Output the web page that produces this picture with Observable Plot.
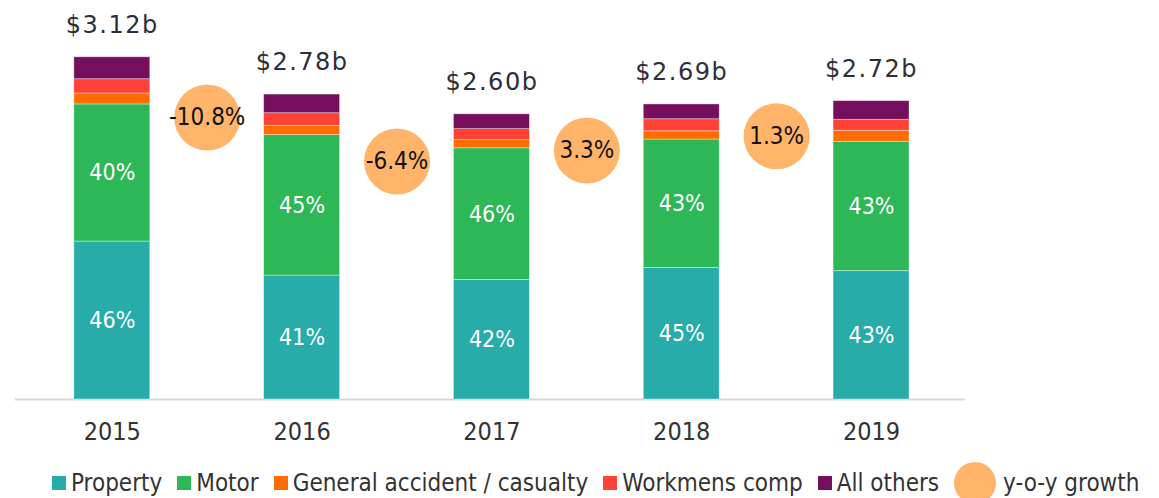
<!DOCTYPE html>
<html>
<head>
<meta charset="utf-8">
<script src="https://cdn.jsdelivr.net/npm/d3@7"></script>
<script src="https://cdn.jsdelivr.net/npm/@observablehq/plot@0.6"></script>
<style>
  html, body { margin: 0; padding: 0; background: #fff; overflow: hidden; }
  #chart { width: 1159px; }
  .legend { display: flex; align-items: center; height: 46px; padding-left: 52px;
    font-family: "DejaVu Sans Condensed", "DejaVu Sans", sans-serif; font-size: 24px; color: #333; white-space: nowrap; }
  .legend .item { display: flex; align-items: center; margin-right: 15px; }
  .legend .sw { width: 14px; height: 14px; margin-right: 5px; display: inline-block; }
  .legend .circ { width: 42px; height: 42px; border-radius: 50%; margin-right: 7px; display: inline-block; }
</style>
</head>
<body>
<div id="chart"></div>
<script>
const years = [2015, 2016, 2017, 2018, 2019];
const categories = ["Property", "Motor", "General accident / casualty", "Workmens comp", "All others"];
const colors = ["#27ACAA", "#2DB757", "#FF6D00", "#FF4136", "#750E5C"];
// premium by line, $ billions
const property = [1.44, 1.13, 1.09, 1.20, 1.17];
const motor = [1.25, 1.28, 1.20, 1.17, 1.18];
const generalAccident = [0.10, 0.085, 0.075, 0.075, 0.10];
const workmensComp = [0.13, 0.115, 0.10, 0.11, 0.10];
const allOthers = [0.20, 0.17, 0.135, 0.135, 0.17];
const totals = [3.12, 2.78, 2.60, 2.69, 2.72];
const propertyShare = [46, 41, 42, 45, 43];
const motorShare = [40, 45, 46, 43, 43];
const growth = [-10.8, -6.4, 3.3, 1.3];
const growthLevel = [2.57, 2.17, 2.27, 2.40]; // $b level at which each bubble sits
const growthColor = "#FFB46A";

const series = [property, motor, generalAccident, workmensComp, allOthers];
const rows = [];
years.forEach((year, i) => {
  let acc = 0;
  series.forEach((s, k) => {
    rows.push({year, cat: categories[k], y1: acc, y2: acc + s[i], k});
    acc += s[i];
  });
});
const shareRows = [];
years.forEach((year, i) => {
  const p = rows.find(r => r.year === year && r.k === 0);
  const m = rows.find(r => r.year === year && r.k === 1);
  shareRows.push({year, y: (p.y1 + p.y2) / 2, label: propertyShare[i] + "%"});
  shareRows.push({year, y: (m.y1 + m.y2) / 2, label: motorShare[i] + "%"});
});
const totalRows = years.map((year, i) => ({year, total: totals[i]}));
const growthRows = growth.map((g, i) => ({x: years[i] + 0.5, y: growthLevel[i], g}));

const font = "DejaVu Sans Condensed, DejaVu Sans, sans-serif";
const plot = Plot.plot({
  width: 1159,
  height: 460,
  marginLeft: 15,
  marginRight: 194,
  marginTop: 48,
  marginBottom: 61,
  style: {fontFamily: font, background: "#fff"},
  x: {domain: [2014.49, 2019.495], axis: null},
  y: {domain: [0, 3.2], axis: null},
  color: {domain: categories, range: colors},
  marks: [
    Plot.ruleY([0], {stroke: "#d6d6d6", strokeWidth: 2}),
    Plot.rect(rows, {x1: d => d.year - 0.2, x2: d => d.year + 0.2, y1: "y1", y2: "y2", fill: "cat",
      stroke: "white", strokeWidth: 0.8, strokeOpacity: 0.45}),
    Plot.text(shareRows, {x: "year", y: "y", text: "label", fill: "white", fontSize: 23}),
    Plot.text(totalRows, {x: "year", y: "total", text: d => "$" + d.total.toFixed(2) + "b", dy: -32,
      fill: "#2e2e38", fontSize: 24, fontFamily: "DejaVu Sans, sans-serif"}),
    Plot.dot(growthRows, {x: "x", y: "y", r: 33, fill: growthColor}),
    Plot.text(growthRows, {x: "x", y: "y", text: d => d.g.toFixed(1) + "%", fill: "#111", fontSize: 24}),
    Plot.axisX({ticks: years, tickFormat: d => String(d), tickSize: 0, tickPadding: 23, fontSize: 25,
      color: "#333", fill: "#333"})
  ]
});
plot.querySelectorAll("text").forEach(t => {
  if (t.textContent.startsWith("$")) t.style.letterSpacing = "1.5px";
});
document.getElementById("chart").appendChild(plot);

const legend = document.createElement("div");
legend.className = "legend";
categories.forEach((c, k) => {
  const it = document.createElement("span");
  it.className = "item";
  it.innerHTML = `<span class="sw" style="background:${colors[k]}"></span><span>${c}</span>`;
  legend.appendChild(it);
});
const g = document.createElement("span");
g.className = "item";
g.innerHTML = `<span class="circ" style="background:${growthColor}"></span><span>y-o-y growth</span>`;
legend.appendChild(g);
document.getElementById("chart").appendChild(legend);
</script>
</body>
</html>
